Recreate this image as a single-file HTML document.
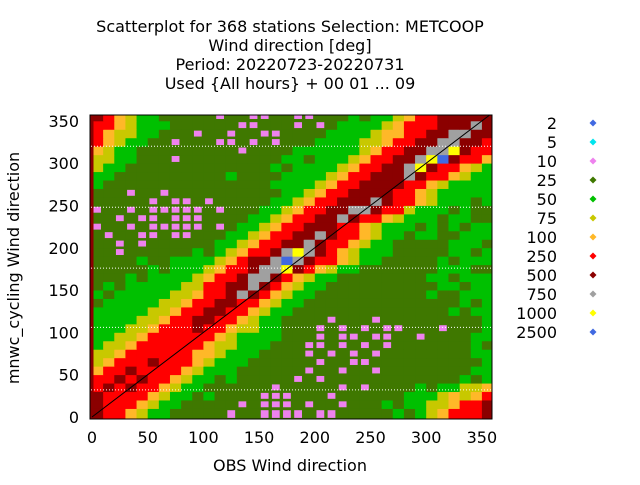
<!DOCTYPE html>
<html><head><meta charset="utf-8">
<style>
html,body{margin:0;padding:0;background:#fff;}
svg text{font-family:"DejaVu Sans","Liberation Sans",sans-serif;fill:#000;}
</style></head>
<body>
<svg id="chart" width="640" height="480" viewBox="0 0 640 480">
  <g font-size="16" text-anchor="middle">
    <text x="290" y="32">Scatterplot for  368 stations Selection: METCOOP</text>
    <text x="290" y="51">Wind direction [deg]</text>
    <text x="290" y="70">Period: 20220723-20220731</text>
    <text x="290" y="89">Used {All hours} + 00 01 ... 09</text>
  </g>
  <defs><clipPath id="pc"><rect x="90" y="115" width="402" height="304"/></clipPath></defs>
  <g id="cells" clip-path="url(#pc)"></g>
  <g id="grid"></g>
  <line id="diag" stroke="#000" stroke-width="1"/>
  <rect x="90" y="115" width="402" height="304" fill="none" stroke="#000" stroke-width="1"/>
  <g id="xticks" font-size="16" text-anchor="middle"></g>
  <g id="yticks" font-size="16" text-anchor="end"></g>
  <text x="290" y="471" font-size="16" text-anchor="middle">OBS Wind direction</text>
  <text x="19" y="268" font-size="16" text-anchor="middle" transform="rotate(-90 19 268)">mnwc_cycling Wind direction</text>
  <g id="legend" font-size="16"></g>
</svg>
<script>
// Legend categories and colours
const legendLabels = ["2","5","10","25","50","75","100","250","500","750","1000","2500"];
const legendCodes  = ["b","c","v","o","g","y","a","r","d","s","Y","B"];
const legendColors = ["#4169e1","#00e5ee","#ee82ee","#3f7800","#00c000","#c8c800","#ffb828","#ff0000","#8b0000","#a0a0a0","#ffff00","#4169e1"];
// Axis ticks
const xTickValues = [0,50,100,150,200,250,300,350];
const yTickValues = [0,50,100,150,200,250,300,350];
const gridYValues = [32,106,176,248,320];
const binSize = 10;
// Density category per 10-degree bin; rows from y=0 upward, columns x=0..350
const densityRows = [
"drrayg"+"gooooo"+"voovvv"+"vovvoo"+"ooogog"+"yarrrd",
"drrray"+"ggoooo"+"ovovvv"+"ovoovo"+"oogogg"+"yyarrd",
"drrrra"+"yggogo"+"ooovvv"+"ooovoo"+"oooogg"+"gyayar",
"rdrdrr"+"ayggoo"+"oooovo"+"oooovo"+"voooog"+"oggyya",
"rrdrdr"+"rayggo"+"gooooo"+"vovooo"+"oooooo"+"ooogog",
"arrdrr"+"rraygg"+"gooooo"+"ovoovo"+"ovoooo"+"oooogg",
"yarrrd"+"rrrayg"+"ggoooo"+"oovoov"+"vooooo"+"ooooog",
"yyarrr"+"rrraay"+"gggooo"+"ovovov"+"ovoooo"+"oooogg",
"gyyarr"+"rrrray"+"ygggoo"+"ovvovo"+"vovooo"+"oooogo",
"ggyyar"+"rrrrra"+"yggggo"+"oovovv"+"ovvoov"+"oooogg",
"gggyya"+"rrrdrr"+"ayyggo"+"oovovo"+"vovvoo"+"ovooog",
"ggggyy"+"arrddr"+"rayggo"+"ooovoo"+"ovoooo"+"ooooog",
"gggggy"+"yarrdd"+"rraygg"+"oooooo"+"oooooo"+"oogogg",
"oggggg"+"yyarrd"+"drrayg"+"gooooo"+"oooooo"+"ooogog",
"gogggg"+"gyyarr"+"dsdray"+"ggoooo"+"oooooo"+"googgg",
"ogoggg"+"ggyyrr"+"ddsdra"+"yggooo"+"oooooo"+"oggogg",
"ooogog"+"gggyar"+"rdssdr"+"ayggoo"+"oooooo"+"ggoggg",
"ooooog"+"ogggya"+"rrdssY"+"draygg"+"oooooo"+"ogggoo",
"oooogo"+"oggggy"+"arddsB"+"sdrray"+"ggoooo"+"ogoggg",
"oovooo"+"ooogog"+"yarrds"+"Ysdray"+"gggooo"+"ooggog",
"oovovo"+"ooooog"+"gyarrd"+"dsdrra"+"yggooo"+"oogggo",
"ovoovv"+"ovvooo"+"ggyarr"+"ddsdrr"+"ayggog"+"googgg",
"voovov"+"vvvvov"+"oggyar"+"rdddrr"+"aygggo"+"gogogg",
"oovovv"+"ovvvoo"+"ooggya"+"rrddsd"+"rraygg"+"goggoo",
"voovov"+"vvvvov"+"oooggy"+"arrdds"+"sdrryg"+"ggogoo",
"ooooov"+"ovvovo"+"oooogg"+"yarrdd"+"dsdrra"+"ygggog",
"ooovoo"+"vooooo"+"ooooog"+"gyarrd"+"dddrra"+"yggggg",
"gooooo"+"oooooo"+"oooogg"+"ggyarr"+"ddddrr"+"aygggg",
"ggoooo"+"oooooo"+"goooog"+"gggyar"+"rdddsd"+"rraygg",
"yggooo"+"oooooo"+"oooogo"+"ggggya"+"rrddsY"+"drrayg",
"yyggoo"+"ovoooo"+"ooooog"+"gogggy"+"arrdds"+"YBdrra",
"ayggoo"+"oooooo"+"ovoooo"+"gggggg"+"yarrdd"+"ssYdrr",
"rayggo"+"ovooov"+"vovovo"+"oogggg"+"yyarrd"+"dssddr",
"rayygg"+"ooovoo"+"voovvo"+"oooggg"+"gyaarr"+"ddssdd",
"rraygg"+"gooooo"+"ovvooo"+"vovogg"+"ggyarr"+"rdddsd",
"draygg"+"ooooov"+"oovvoo"+"vvooog"+"oggyar"+"rddddd"
];
const NS="http://www.w3.org/2000/svg";
function xs(v){return 92+v*1.114;}
function ys(v){return 417-v*0.846;}
function colorOf(code){const i=legendCodes.indexOf(code);return i>=0?legendColors[i]:"#3f7800";}
const cells=document.getElementById("cells");
const bg=document.createElementNS(NS,"rect");
bg.setAttribute("x",88);bg.setAttribute("y",110);bg.setAttribute("width",410);bg.setAttribute("height",312);bg.setAttribute("fill","#3f7800");


cells.appendChild(bg);
densityRows.forEach((row,ri)=>{
  for(let ci=0;ci<row.length;ci++){
    const code=row[ci];
    const x0=ci===0?xs(-3):xs(ci*binSize), x1=ci===row.length-1?xs(365):xs((ci+1)*binSize);
    const y0=ri===0?ys(-3):ys(ri*binSize), y1=ri===densityRows.length-1?ys(365):ys((ri+1)*binSize);
    const r=document.createElementNS(NS,"rect");
    if(code==="v"){
      const w=x1-x0,h=y0-y1;
      r.setAttribute("x",(x0+w*0.15).toFixed(2));r.setAttribute("y",(y1+h*0.15).toFixed(2));
      r.setAttribute("width",(w*0.7).toFixed(2));r.setAttribute("height",(h*0.7).toFixed(2));
    } else {
      r.setAttribute("x",x0.toFixed(2));r.setAttribute("y",y1.toFixed(2));
      r.setAttribute("width",(x1-x0+0.4).toFixed(2));r.setAttribute("height",(y0-y1+0.4).toFixed(2));
    }
    r.setAttribute("fill",colorOf(code));
    
    
    cells.appendChild(r);
  }
});
const strip=document.createElementNS(NS,"rect");
strip.setAttribute("x",90.5);strip.setAttribute("y",115);strip.setAttribute("width",3);strip.setAttribute("height",304);strip.setAttribute("fill","#8b0000");


cells.appendChild(strip);
const grid=document.getElementById("grid");
gridYValues.forEach(v=>{
  const l=document.createElementNS(NS,"line");
  l.setAttribute("x1",91);l.setAttribute("x2",491);l.setAttribute("y1",ys(v));l.setAttribute("y2",ys(v));
  l.setAttribute("stroke","#fff");l.setAttribute("stroke-width","1");l.setAttribute("stroke-dasharray","1,2");
  
  
  grid.appendChild(l);
});
const d=document.getElementById("diag");
d.setAttribute("x1",xs(0));d.setAttribute("y1",ys(0));d.setAttribute("x2",xs(357));d.setAttribute("y2",ys(357));
const xt=document.getElementById("xticks");
xTickValues.forEach(v=>{
  const t=document.createElementNS(NS,"text");
  t.setAttribute("x",xs(v));t.setAttribute("y",443);t.textContent=v;
  
  
  xt.appendChild(t);
});
const yt=document.getElementById("yticks");
yTickValues.forEach(v=>{
  const t=document.createElementNS(NS,"text");
  t.setAttribute("x",79);t.setAttribute("y",ys(v)+6);t.textContent=v;
  
  
  yt.appendChild(t);
});
const lg=document.getElementById("legend");
legendLabels.forEach((lab,i)=>{
  const y=123+i*19;
  const t=document.createElementNS(NS,"text");
  t.setAttribute("x",557);t.setAttribute("y",y+6);t.setAttribute("text-anchor","end");t.textContent=lab;
  
  
  lg.appendChild(t);
  const m=document.createElementNS(NS,"path");
  m.setAttribute("d",`M593 ${y-3.5} L596.5 ${y} L593 ${y+3.5} L589.5 ${y} Z`);
  m.setAttribute("fill",legendColors[i]);
  
  
  lg.appendChild(m);
});
</script>
</body></html>
